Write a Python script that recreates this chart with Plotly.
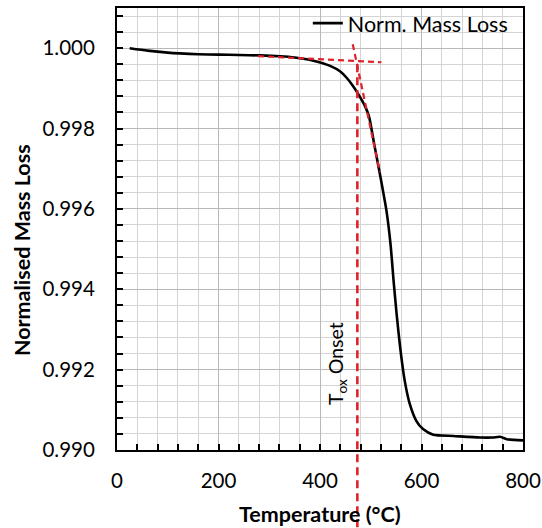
import plotly.graph_objects as go

# Data
temperature = [25, 60, 100, 124, 160, 200, 240, 280, 321, 350, 387, 420, 440, 452, 465, 479,
               490, 497, 507, 518, 531, 539, 545, 551, 558, 567, 577, 590, 603, 623, 663,
               715, 740, 755, 768, 800]
mass_loss = [1.00000, 0.99994, 0.99989, 0.99987, 0.99985, 0.99984, 0.99983, 0.99982, 0.99980,
             0.99977, 0.99969, 0.99956, 0.99942, 0.99927, 0.99906, 0.99878, 0.99852, 0.99828,
             0.99760, 0.99687, 0.99595, 0.99512, 0.99421, 0.99338, 0.99255, 0.99172, 0.99114,
             0.99072, 0.99052, 0.99038, 0.99035, 0.99031, 0.99031, 0.99033, 0.99027, 0.99024]

baseline_T = [278, 521]
baseline_M = [0.99980, 0.99965]
slope_T = [464.5, 518]
slope_M = [1.0001, 0.99691]
onset_T = 473.6
onset_M = 0.99965

x_range = [0, 800]
y_range = [0.990, 1.001]

RED = "#e0222b"
FONT = "Lato"

fig = go.Figure()
fig.add_trace(go.Scatter(x=temperature, y=mass_loss, mode="lines", name="Norm. Mass Loss",
                         line=dict(color="black", width=2.6, shape="spline", smoothing=0.6)))
fig.add_trace(go.Scatter(x=baseline_T, y=baseline_M, mode="lines", showlegend=False,
                         line=dict(color=RED, width=2.2, dash="6px,4px")))
fig.add_trace(go.Scatter(x=slope_T, y=slope_M, mode="lines", showlegend=False,
                         line=dict(color=RED, width=2.2, dash="6px,4px")))

top_paper = (onset_M - y_range[0]) / (y_range[1] - y_range[0])
fig.add_shape(type="line", xref="x", yref="paper", x0=onset_T, x1=onset_T,
              y0=-0.175, y1=top_paper, line=dict(color=RED, width=2.6, dash="8px,5px"))

fig.add_annotation(x=433.5, y=0.99214, xref="x", yref="y", text="T<sub>ox</sub> Onset",
                   textangle=-90, showarrow=False, font=dict(family=FONT, size=19.5, color="black"))
fig.add_annotation(x=0.5, y=0, xref="paper", yref="paper", yshift=-64, yanchor="middle",
                   text="<b>Temperature (°C)</b>", showarrow=False,
                   font=dict(family=FONT, size=21.5, color="black"))
fig.add_annotation(x=0, y=0.4525, xref="paper", yref="paper", xshift=-95, xanchor="center",
                   text="<b>Normalised Mass Loss</b>", textangle=-90, showarrow=False,
                   font=dict(family=FONT, size=21.5, color="black"))

axis_common = dict(showline=True, linecolor="black", linewidth=2, mirror=True, zeroline=False,
                   automargin=False,
                   showgrid=True, gridcolor="#b8b8b8", gridwidth=1.2,
                   ticks="inside", ticklen=6, tickcolor="black", tickwidth=1.5,
                   tickfont=dict(family=FONT, size=20.5, color="black"))

fig.update_xaxes(range=x_range, tickmode="linear", tick0=0, dtick=200, ticklabelstandoff=11,
                 minor=dict(dtick=40, tick0=0, showgrid=True, gridcolor="#d4d4d4", gridwidth=1.2,
                            ticks="inside", ticklen=6, tickcolor="black"),
                 **axis_common)
fig.update_yaxes(range=y_range, tickmode="linear", tick0=0.990, dtick=0.002, tickformat=".3f",
                 ticklabelstandoff=16,
                 minor=dict(dtick=0.0004, tick0=0.990, showgrid=True, gridcolor="#d4d4d4",
                            gridwidth=1.2, ticks="inside", ticklen=6, tickcolor="black"),
                 **axis_common)

fig.update_layout(width=542, height=528, margin=dict(l=117, r=19, t=8, b=78, autoexpand=False),
                  paper_bgcolor="white", plot_bgcolor="white",
                  font=dict(family=FONT, color="black"),
                  legend=dict(x=0.47, y=0.995, xref="paper", yref="container",
                              xanchor="left", yanchor="top",
                              bgcolor="rgba(255,255,255,0)", borderwidth=0,
                              font=dict(family=FONT, size=21.5, color="black")))

fig.write_html("out.html")
